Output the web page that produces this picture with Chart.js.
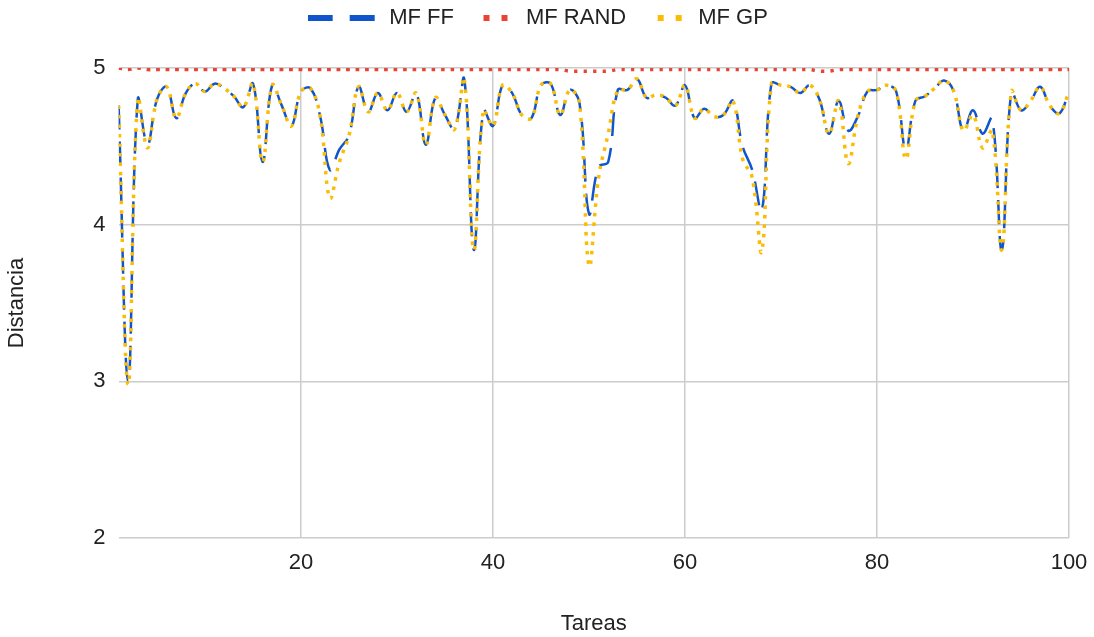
<!DOCTYPE html>
<html>
<head>
<meta charset="utf-8">
<script src="https://cdn.jsdelivr.net/npm/chart.js@4"></script>
<style>
html,body{margin:0;padding:0;background:#fff;}
#wrap{width:1094px;height:637px;}
</style>
</head>
<body>
<div id="wrap"><canvas id="c" width="1094" height="637"></canvas></div>
<script>
// ---- data ----
const tareas = [1,2,3,4,5,6,7,8,9,10,11,12,13,14,15,16,17,18,19,20,
  21,22,23,24,25,26,27,28,29,30,31,32,33,34,35,36,37,38,39,40,
  41,42,43,44,45,46,47,48,49,50,51,52,53,54,55,56,57,58,59,60,
  61,62,63,64,65,66,67,68,69,70,71,72,73,74,75,76,77,78,79,80,
  81,82,83,84,85,86,87,88,89,90,91,92,93,94,95,96,97,98,99,100];

const mfFF = [4.76,3.00,4.80,4.51,4.80,4.88,4.68,4.84,4.90,4.85,
  4.90,4.87,4.82,4.75,4.90,4.40,4.89,4.76,4.63,4.85,
  4.87,4.69,4.35,4.48,4.57,4.88,4.72,4.84,4.73,4.84,
  4.72,4.84,4.51,4.81,4.70,4.61,4.93,3.84,4.73,4.63,
  4.89,4.84,4.70,4.68,4.89,4.90,4.70,4.86,4.78,4.07,
  4.37,4.40,4.86,4.86,4.93,4.81,4.83,4.81,4.76,4.89,
  4.68,4.74,4.69,4.70,4.79,4.50,4.35,4.09,4.90,4.89,
  4.88,4.84,4.89,4.80,4.58,4.79,4.60,4.69,4.85,4.86,
  4.89,4.85,4.48,4.79,4.82,4.87,4.92,4.85,4.60,4.73,
  4.58,4.68,3.84,4.85,4.73,4.79,4.88,4.76,4.71,4.85];

const mfRAND = [5.00,4.99,5.00,4.99,4.99,4.99,4.99,4.99,4.99,4.99,
  4.99,4.99,4.99,4.99,4.99,4.99,4.99,4.99,4.99,4.99,
  4.99,4.99,4.99,4.99,4.99,4.99,4.99,4.99,4.99,4.99,
  4.99,4.99,4.99,4.99,4.99,4.99,4.99,4.99,4.99,4.99,
  4.99,4.99,4.99,4.99,4.99,4.99,4.99,4.98,4.98,4.98,
  4.98,4.98,4.99,4.99,4.99,4.99,4.99,4.99,4.99,4.99,
  4.99,4.99,4.99,4.99,4.99,4.99,4.99,4.99,4.99,4.99,
  4.99,4.99,4.99,4.98,4.98,4.99,4.99,4.99,4.99,4.99,
  4.99,4.99,4.99,4.99,4.99,4.99,4.99,4.99,4.99,4.99,
  4.99,4.99,4.99,4.99,4.99,4.99,4.99,4.99,4.99,4.99];

const mfGP = [4.76,2.98,4.80,4.49,4.80,4.88,4.68,4.84,4.90,4.85,
  4.90,4.87,4.82,4.75,4.90,4.40,4.89,4.76,4.63,4.85,
  4.87,4.69,4.17,4.40,4.57,4.88,4.72,4.84,4.73,4.84,
  4.72,4.84,4.51,4.81,4.70,4.61,4.93,3.84,4.73,4.63,
  4.89,4.84,4.70,4.68,4.89,4.90,4.70,4.86,4.78,3.74,
  4.30,4.58,4.86,4.86,4.93,4.81,4.83,4.81,4.76,4.89,
  4.68,4.74,4.69,4.70,4.79,4.42,4.30,3.83,4.90,4.89,
  4.88,4.84,4.89,4.80,4.58,4.79,4.39,4.69,4.85,4.86,
  4.89,4.85,4.42,4.79,4.82,4.87,4.92,4.85,4.60,4.70,
  4.49,4.60,3.84,4.85,4.73,4.79,4.88,4.76,4.71,4.85];

const seriesNames = ['MF FF', 'MF RAND', 'MF GP'];
const xTickValues = [20, 40, 60, 80, 100];
const yTickValues = [2, 3, 4, 5];

// ---- styling ----
const FONT = "'Liberation Sans', Arial, sans-serif";
const TEXT = '#222222';
Chart.defaults.font.family = FONT;

function makeIcon(w, h, rects, color) {
  const c = document.createElement('canvas');
  c.width = w; c.height = h;
  const g = c.getContext('2d');
  g.fillStyle = color;
  rects.forEach(r => g.fillRect(r[0], 0, r[1], h));
  return c;
}
const COLORS = ['#1155cc', '#ea4335', '#fbbc04'];
const icons = [
  makeIcon(90, 6, [[0, 25], [42, 25]], COLORS[0]),
  makeIcon(38, 6, [[13, 6], [31, 6]], COLORS[1]),
  makeIcon(42, 6, [[17, 6], [35, 6]], COLORS[2])
];

const toPts = arr => tareas.map((t, i) => ({x: t, y: arr[i]}));

const legendShift = {
  id: 'legendShift',
  afterLayout(chart) {
    const lg = chart.legend;
    if (!lg) return;
    lg.left += 13; lg.right += 13;
    lg.top -= 29; lg.bottom -= 29;
  }
};

new Chart(document.getElementById('c'), {
  type: 'line',
  data: {
    datasets: [
      { label: seriesNames[0], data: toPts(mfFF), borderColor: COLORS[0], backgroundColor: COLORS[0],
        borderWidth: 2.5, borderDash: [24, 12], order: 2 },
      { label: seriesNames[1], data: toPts(mfRAND), borderColor: COLORS[1], backgroundColor: COLORS[1],
        borderWidth: 3.5, borderDash: [3.5, 6], order: 1 },
      { label: seriesNames[2], data: toPts(mfGP), borderColor: COLORS[2], backgroundColor: COLORS[2],
        borderWidth: 3.5, borderDash: [3.5, 6], order: 0 }
    ]
  },
  plugins: [legendShift],
  options: {
    responsive: false,
    animation: false,
    devicePixelRatio: 1,
    layout: { padding: { left: 0, right: 25, top: 26, bottom: 0 } },
    elements: {
      point: { radius: 0, hoverRadius: 0 },
      line: { tension: 0.4, fill: false, borderCapStyle: 'butt' }
    },
    plugins: {
      tooltip: { enabled: false },
      legend: {
        position: 'top',
        align: 'center',
        labels: {
          usePointStyle: true,
          pointStyleWidth: 51,
          padding: 10,
          color: TEXT,
          font: { family: FONT, size: 22 },
          sort: (a, b) => a.datasetIndex - b.datasetIndex,
          generateLabels: chart => chart.data.datasets.map((ds, i) => ({
            text: ds.label,
            pointStyle: icons[i],
            fillStyle: ds.borderColor,
            strokeStyle: ds.borderColor,
            lineWidth: 0,
            hidden: false,
            fontColor: TEXT,
            datasetIndex: i
          }))
        }
      }
    },
    scales: {
      x: {
        type: 'linear',
        min: 1,
        max: 100,
        afterBuildTicks: s => { s.ticks = xTickValues.map(v => ({ value: v })); },
        afterFit: s => { s.height = 99; s.paddingLeft = 0; s.paddingRight = 0; },
        grid: { color: '#cccccc', lineWidth: 1.5, drawTicks: false },
        border: { display: false },
        ticks: { padding: 12, color: TEXT, font: { size: 22 }, maxRotation: 0 },
        title: { display: true, text: 'Tareas', color: TEXT, font: { size: 22 }, padding: { top: 0, bottom: 0 } }
      },
      y: {
        min: 2,
        max: 5,
        afterBuildTicks: s => { s.ticks = yTickValues.map(v => ({ value: v })); },
        afterFit: s => { s.width = 118.6; s.paddingTop = 0; s.paddingBottom = 0; },
        grid: { color: '#cccccc', lineWidth: 1.5, drawTicks: false },
        border: { display: false },
        ticks: { padding: 13, color: TEXT, font: { size: 22 } },
        title: { display: true, text: 'Distancia', color: TEXT, font: { size: 22 }, padding: { top: 4, bottom: 0 } }
      }
    }
  }
});
</script>
</body>
</html>
